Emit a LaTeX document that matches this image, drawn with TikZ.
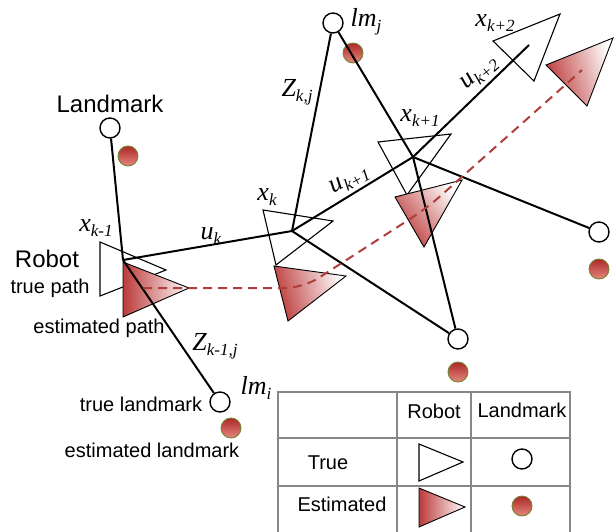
\documentclass[tikz,border=0pt]{standalone}
\usepackage{fontspec}
\setmainfont{Liberation Serif}
\setsansfont{Liberation Sans}
\definecolor{estred}{RGB}{188,58,58}
\definecolor{dotdark}{RGB}{172,40,40}
\definecolor{dotlight}{RGB}{228,135,125}
\definecolor{dotedge}{RGB}{118,132,52}
\definecolor{pathred}{RGB}{175,62,58}
\definecolor{tablegrey}{RGB}{135,135,135}
\newcommand\mlab[2]{\fontsize{26}{28}\selectfont\itshape #1\raisebox{-5pt}{\fontsize{17}{17}\selectfont #2}}
\tikzset{
  conn/.style={line width=2pt, black},
  truetri/.style={draw=black, line width=1.1pt, line join=miter},
  esttri/.style={draw=black, line width=0.9pt, left color=estred, right color=white},
  trueLM/.style={circle, draw=black, line width=1.4pt, fill=white, minimum size=20pt, inner sep=0pt},
  estLM/.style={circle, draw=dotedge, line width=0.9pt, top color=dotdark, bottom color=dotlight, minimum size=20pt, inner sep=0pt},
  sanslab/.style={font=\sffamily\fontsize{20}{22}\selectfont, inner sep=0pt},
  biglab/.style={font=\sffamily\fontsize{24}{26}\selectfont, inner sep=0pt},
  mathlab/.style={inner sep=0pt},
  estpath/.style={pathred, line width=2pt, dash pattern=on 9pt off 6pt},
  tbl/.style={tablegrey, line width=1.2pt},
}
\begin{document}
\begin{tikzpicture}[x=1pt,y=-1pt]
\useasboundingbox (0,0) rectangle (615,532);
% robot poses (centres of the true triangles)
\coordinate (P1) at (123,260);
\coordinate (P2) at (292,231);
\coordinate (P3) at (413,157);
\coordinate (P4) at (529,45);
% true robot triangles
\draw[truetri] (100,242) -- (166,270) -- (100,296) -- cycle;
\draw[truetri] (263,210) -- (333,221) -- (276,265) -- cycle;
\draw[truetri] (378,142) -- (451,134) -- (407,195) -- cycle;
\draw[truetri] (493,41) -- (560,14) -- (534,81) -- cycle;
% estimated robot triangles
\draw[esttri] (123,262) -- (189,288) -- (123,317) -- cycle;
\draw[esttri, shading angle=105] (274,266) -- (346,276) -- (288,321) -- cycle;
\draw[esttri, shading angle=128] (395,197) -- (462,180) -- (424,247) -- cycle;
\draw[esttri, shading angle=105] (546,65) -- (613,38) -- (587,106) -- cycle;
% landmarks
\node[trueLM] (LMa) at (110,128) {};
\node[estLM] (ELMa) at (128,156) {};
\node[trueLM] (LMj) at (333,23) {};
\node[estLM] (ELMj) at (353,53) {};
\node[trueLM] (LMi) at (220,402) {};
\node[estLM] (ELMi) at (231,428) {};
\node[trueLM] (LMr) at (599,232) {};
\node[estLM] (ELMr) at (599,269) {};
\node[trueLM] (LMb) at (458,339) {};
\node[estLM] (ELMb) at (458,372) {};
% connectors
\draw[conn] (P1) -- (LMa);
\draw[conn] (P1) -- (P2);
\draw[conn] (P1) -- (LMi);
\draw[conn] (P2) -- (LMj);
\draw[conn] (P2) -- (P3);
\draw[conn] (P2) -- (LMb);
\draw[conn] (P3) -- (LMj);
\draw[conn] (P3) -- (LMb);
\draw[conn] (P3) -- (LMr);
\draw[conn] (P3) -- (P4);
% estimated path
\coordinate (E1) at (143,288);
\coordinate (E2) at (303,288);
\coordinate (E3) at (427,208);
\coordinate (E4) at (582,70);
\draw[estpath, rounded corners=18pt] (E1) -- (E2) -- (E3) -- (E4);
% labels
\node[biglab] (tLandmark) at (110,104) {Landmark};
\node[biglab] (tRobot) at (47,259) {Robot};
\node[sanslab] (tTruePath) at (50,288) {true path};
\node[sanslab] (tEstPath) at (99,328) {estimated path};
\node[sanslab] (tTrueLM) at (141,404) {true landmark};
\node[sanslab] (tEstLM) at (152,450) {estimated landmark};
\node[mathlab] (lxk1) at (96,228) {\mlab{x}{k-1}};
\node[mathlab] (luk) at (211,236) {\mlab{u}{k}};
\node[mathlab] (lxk) at (267,197) {\mlab{x}{k}};
\node[mathlab, rotate=28] (luk1) at (350,181) {\mlab{u}{k+1}};
\node[mathlab] (lZkj) at (297,92) {\mlab{Z}{k,j}};
\node[mathlab] (llmj) at (366,22) {\mlab{lm}{j}};
\node[mathlab] (lxk1b) at (420,118) {\mlab{x}{k+1}};
\node[mathlab, rotate=40] (luk2) at (480,74) {\mlab{u}{k+2}};
\node[mathlab] (lxk2) at (495,23) {\mlab{x}{k+2}};
\node[mathlab] (lZk1j) at (215,346) {\mlab{Z}{k-1,j}};
\node[mathlab] (llmi) at (256,388) {\mlab{lm}{i}};
% legend table
\draw[tbl] (278,532) -- (278,392) -- (570,392) -- (570,532);
\draw[tbl] (397,392) -- (397,532);
\draw[tbl] (471,392) -- (471,532);
\draw[tbl] (278,438) -- (570,438);
\draw[tbl] (278,486) -- (570,486);
\node[sanslab] (hRobot) at (434,411) {Robot};
\node[sanslab] (hLandmark) at (522,410) {Landmark};
\node[sanslab] (hTrue) at (328,463) {True};
\node[sanslab] (hEst) at (342,504) {Estimated};
\draw[truetri] (419,444) -- (463,462) -- (419,481) -- cycle;
\draw[esttri] (419,488) -- (465,507) -- (419,527) -- cycle;
\node[trueLM] (legT) at (522,459) {};
\node[estLM] (legE) at (522,506) {};
\end{tikzpicture}
\end{document}
